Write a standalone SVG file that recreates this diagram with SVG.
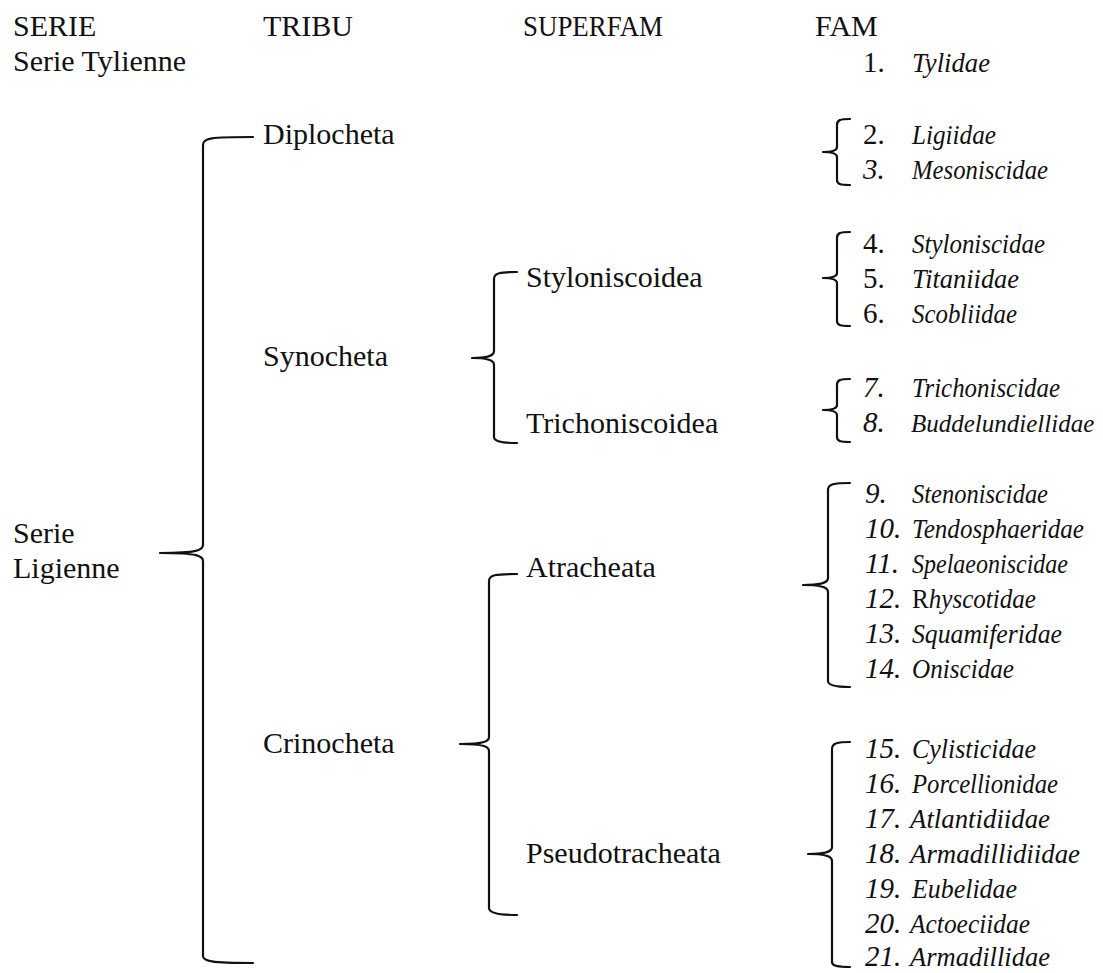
<svg xmlns="http://www.w3.org/2000/svg" width="1103" height="973" viewBox="0 0 1103 973">
<style>
text{font-family:"Liberation Serif","Times New Roman",serif;fill:#111;}
.t{font-size:30px;}
.n{font-size:29px;}
.ni{font-size:29px;font-style:italic;}
.i{font-size:28px;font-style:italic;}
.b{fill:none;stroke:#111;stroke-width:2.2;stroke-linecap:round;stroke-linejoin:round;}
</style>
<rect width="1103" height="973" fill="#fff"/>
<g id="headers">
<text class="t" x="13" y="36">SERIE</text>
<text class="t" x="263" y="36">TRIBU</text>
<text class="t" x="523" y="36" textLength="140" lengthAdjust="spacingAndGlyphs">SUPERFAM</text>
<text class="t" x="815" y="36">FAM</text>
</g>
<g id="serie-tylienne"><text class="t" x="13" y="71">Serie Tylienne</text></g>
<g id="serie-ligienne"><text class="t" x="13" y="543">Serie</text><text class="t" x="13" y="578">Ligienne</text></g>
<g id="diplocheta"><text class="t" x="263" y="144">Diplocheta</text></g>
<g id="synocheta"><text class="t" x="263" y="366">Synocheta</text></g>
<g id="crinocheta"><text class="t" x="263" y="753">Crinocheta</text></g>
<g id="styloniscoidea"><text class="t" x="526" y="287">Styloniscoidea</text></g>
<g id="trichoniscoidea"><text class="t" x="526" y="433">Trichoniscoidea</text></g>
<g id="atracheata"><text class="t" x="526" y="577">Atracheata</text></g>
<g id="pseudotracheata"><text class="t" x="526" y="863">Pseudotracheata</text></g>
<g id="families">
<text class="n" x="863" y="72">1.</text><text class="i" x="912" y="72" textLength="78" lengthAdjust="spacingAndGlyphs">Tylidae</text>
<text class="n" x="863" y="144">2.</text><text class="i" x="912" y="144" textLength="84" lengthAdjust="spacingAndGlyphs">Ligiidae</text>
<text class="ni" x="863" y="179">3.</text><text class="i" x="912" y="179" textLength="136" lengthAdjust="spacingAndGlyphs">Mesoniscidae</text>
<text class="n" x="863" y="253">4.</text><text class="i" x="912" y="253" textLength="133" lengthAdjust="spacingAndGlyphs">Styloniscidae</text>
<text class="n" x="863" y="288">5.</text><text class="i" x="912" y="288" textLength="107" lengthAdjust="spacingAndGlyphs">Titaniidae</text>
<text class="n" x="863" y="323">6.</text><text class="i" x="912" y="323" textLength="105" lengthAdjust="spacingAndGlyphs">Scobliidae</text>
<text class="ni" x="863" y="397">7.</text><text class="i" x="912" y="397" textLength="148" lengthAdjust="spacingAndGlyphs">Trichoniscidae</text>
<text class="ni" x="863" y="432">8.</text><text x="911" y="432" style="font-size:25px;font-style:italic">Buddelundiellidae</text>
<text class="ni" x="865" y="503">9.</text><text class="i" x="912" y="503" textLength="136" lengthAdjust="spacingAndGlyphs">Stenoniscidae</text>
<text class="ni" x="865" y="538">10.</text><text class="i" x="912" y="538" textLength="172" lengthAdjust="spacingAndGlyphs">Tendosphaeridae</text>
<text class="ni" x="865" y="573">11.</text><text class="i" x="912" y="573" textLength="156" lengthAdjust="spacingAndGlyphs">Spelaeoniscidae</text>
<text class="ni" x="865" y="608">12.</text><text class="i" x="912" y="608" textLength="124" lengthAdjust="spacingAndGlyphs"><tspan font-style="normal">R</tspan>hyscotidae</text>
<text class="ni" x="865" y="643">13.</text><text class="i" x="912" y="643" textLength="150" lengthAdjust="spacingAndGlyphs">Squamiferidae</text>
<text class="ni" x="865" y="678">14.</text><text class="i" x="912" y="678" textLength="102" lengthAdjust="spacingAndGlyphs">Oniscidae</text>
<text class="ni" x="865" y="758">15.</text><text class="i" x="912" y="758" textLength="124" lengthAdjust="spacingAndGlyphs">Cylisticidae</text>
<text class="ni" x="865" y="793">16.</text><text class="i" x="912" y="793" textLength="146" lengthAdjust="spacingAndGlyphs">Porcellionidae</text>
<text class="ni" x="865" y="828">17.</text><text class="i" x="910" y="828" textLength="140" lengthAdjust="spacingAndGlyphs">Atlantidiidae</text>
<text class="ni" x="865" y="863">18.</text><text class="i" x="910" y="863" textLength="170" lengthAdjust="spacingAndGlyphs">Armadillidiidae</text>
<text class="ni" x="865" y="898">19.</text><text class="i" x="912" y="898" textLength="105" lengthAdjust="spacingAndGlyphs">Eubelidae</text>
<text class="ni" x="865" y="933">20.</text><text class="i" x="910" y="933" textLength="120" lengthAdjust="spacingAndGlyphs">Actoeciidae</text>
<text class="ni" x="865" y="966">21.</text><text class="i" x="910" y="966" textLength="140" lengthAdjust="spacingAndGlyphs">Armadillidae</text>
</g>
<g id="connectors">
<path class="b" d="M253,137 C210,137 203,138 203,145 L203,545 C203,550 198,553 160,553 C198,553 203,556 203,561 L203,956 C203,961 210,963 253,963"/>
<path class="b" d="M517,272 C500,272 494,273 494,279 L494,351 C494,355 490,358 472,358 C490,358 494,361 494,365 L494,437 C494,441 500,443 517,443"/>
<path class="b" d="M517,574 C495,574 489,575 489,581 L489,737 C489,741 485,744 460,744 C485,744 489,747 489,751 L489,908 C489,912 495,915 517,915"/>
<path class="b" d="M850,119 C840,119 837,120 837,125 L837,147 C837,150 834,152 823,152 C834,152 837,154 837,157 L837,180 C837,184 840,185 850,185"/>
<path class="b" d="M850,232 C840,232 837,233 837,238 L837,273 C837,276 834,278 823,278 C834,278 837,280 837,283 L837,321 C837,325 840,326 850,326"/>
<path class="b" d="M850,379 C840,379 837,380 837,385 L837,405 C837,408 834,410 823,410 C834,410 837,412 837,415 L837,437 C837,441 840,442 850,442"/>
<path class="b" d="M850,483 C834,483 828,484 828,490 L828,578 C828,582 824,585 803,585 C824,585 828,588 828,592 L828,681 C828,685 834,687 850,687"/>
<path class="b" d="M850,742 C838,742 832,743 832,749 L832,847 C832,851 828,854 808,854 C828,854 832,857 832,861 L832,962 C832,966 838,967 850,967"/>
</g>
</svg>
